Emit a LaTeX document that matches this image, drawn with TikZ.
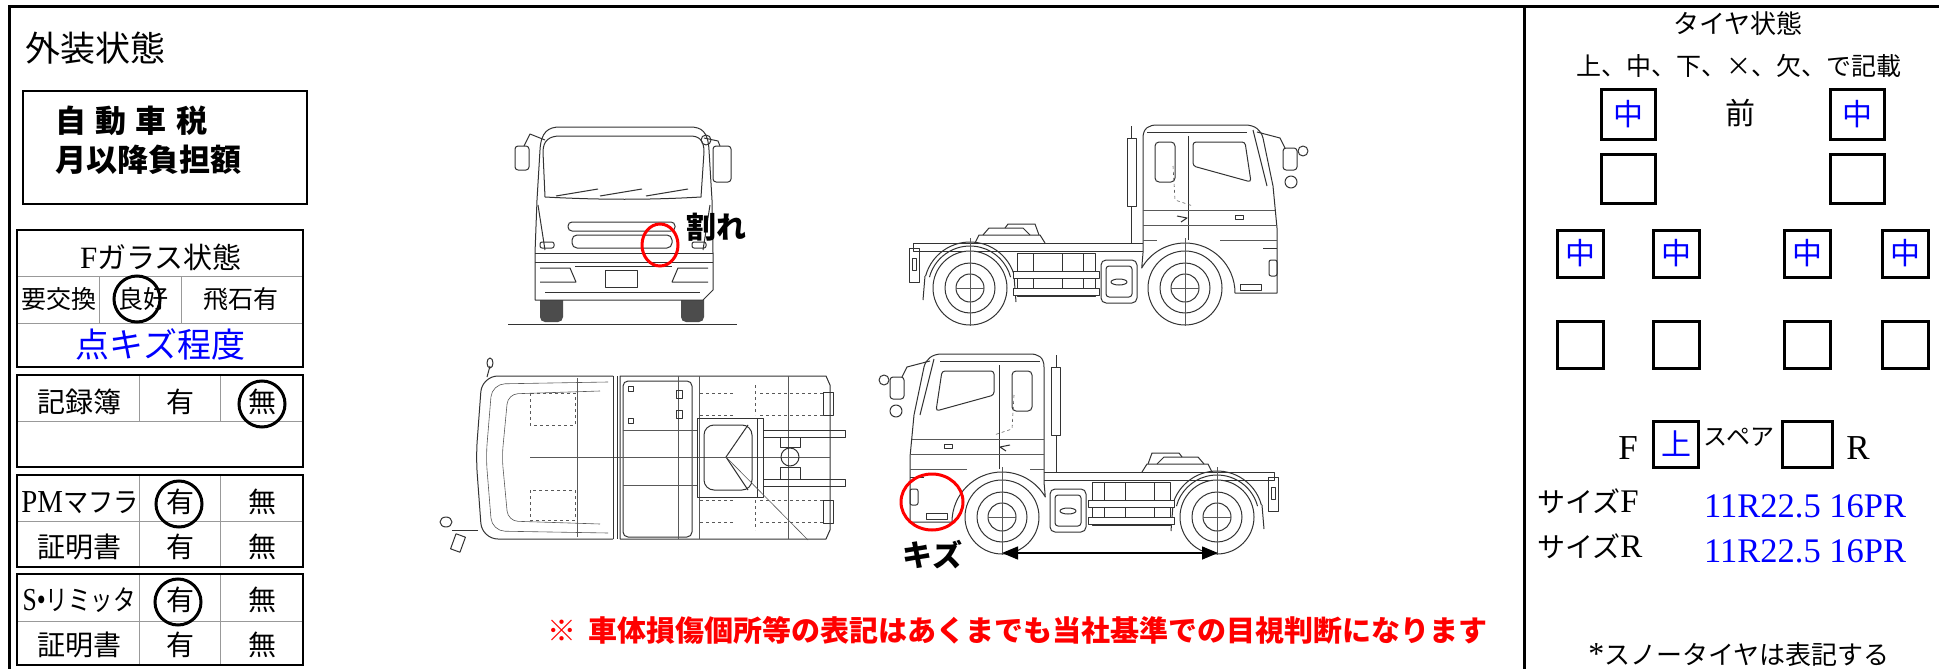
\documentclass[tikz,border=0pt]{standalone}
\usepackage{fontspec}
\usepackage{graphicx}
\setmainfont{Noto Sans CJK JP}
\newfontfamily\serifL{Liberation Serif}
\usetikzlibrary{arrows.meta}
\newcommand\myfs[1]{\fontsize{#1}{#1}\selectfont}
\tikzset{
  tk/.style={line width=1pt,draw=black!80,line join=round},
  tkt/.style={line width=0.6pt,draw=black!65},
  fz/.style={inner sep=0pt,font=\myfs{#1},text height=0.88*#1pt,text depth=0.12*#1pt},
  fzb/.style={fz=#1,font=\myfs{#1}\bfseries},
  fzs/.style={fz=#1,font=\myfs{#1}\serifL},
  sidetruck/.pic={
    % chassis frame
    \draw[tk] (-272,-45) rectangle (-40,-37);
    \draw[tk] (-276,-40) rectangle (-266,-6);
    \draw[tk] (-273,-30) rectangle (-269,-18);
    % rear fender
    \draw[tk] (-215,0) ++(-165:46) arc[start angle=-165,end angle=-15,radius=46];
    \draw[tk] (-215,0) ++(-165:42) arc[start angle=-165,end angle=-15,radius=42];
    \draw[tk] (-260,-12) -- (-262,12);
    \draw[tk] (-171,-12) -- (-169,14);
    % fifth wheel
    \draw[tk] (-210,-45) -- (-206,-53) -- (-145,-53) -- (-140,-45);
    \draw[tk] (-202,-53) -- (-196,-60) -- (-162,-60) -- (-155,-53);
    \draw[tk] (-180,-60) -- (-177,-64) -- (-150,-64) -- (-146,-53);
    % fuel tank
    \draw[tk] (-168,-35) rectangle (-90,8);
    \foreach \xx in {-152,-123,-102}{\draw[tk] (\xx,-35) -- (\xx,8);}
    \draw[tk,fill=white] (-172,-17) rectangle (-86,-10);
    \draw[tk,fill=white] (-172,0) rectangle (-86,7);
    % battery box
    \draw[tk,rounded corners=5] (-84,-28) rectangle (-48,15);
    \draw[tk,rounded corners=3] (-79,-22) rectangle (-53,9);
    \draw[tk] (-66,-6) ellipse[x radius=8,y radius=3];
    % exhaust
    \draw[tk] (-58,-150) rectangle (-49,-82);
    \draw[tk] (-54,-82) -- (-54,-45);
    \draw[tk] (-54,-162) -- (-54,-150);
    % cab
    \draw[tk,fill=white] (-42,-35) -- (-42,-150) .. controls (-42,-160) and (-36,-163) .. (-28,-163)
      -- (60,-163) .. controls (70,-163) and (76,-158) .. (78,-150) -- (88,-102) -- (92,-60)
      -- (92,5) -- (50,5) arc[start angle=0,end angle=-150,radius=50] -- cycle;
    \draw[tk] (-38,-156) -- (62,-156);
    \draw[tk] (68,-158) -- (82,-102);
    \draw[tk,rounded corners=3] (8,-146) -- (60,-146) -- (66,-106) -- (8,-122) -- cycle;
    \draw[tk,rounded corners=4] (-30,-146) rectangle (-10,-106);
    \draw[tk] (3,-152) -- (3,-48);
    \draw[tkt] (-42,-78) -- (90,-78);
    \draw[tkt] (-42,-63) -- (92,-63);
    \draw[tkt] (-42,-48) -- (-28,-48);
    \draw[tkt] (35,-48) -- (92,-48);
    \draw[tk] (78,-40) -- (92,-40);
    \draw[tk,rounded corners=2] (84,-28) rectangle (92,-12);
    \draw[tk] (55,-4) rectangle (76,2);
    \draw[tk] (50,-73) rectangle (58,-69);
    \draw[tkt,dashed] (-12,-122) -- (-10,-88) -- (8,-82);
    \draw[tk] (-8,-72) -- (2,-70) -- (-4,-66);
    % mirror
    \draw[tk] (72,-156) -- (95,-150) -- (100,-140);
    \draw[tk,rounded corners=3] (98,-140) rectangle (112,-118);
    \draw[tk] (106,-106) circle[radius=6];
    \draw[tk] (118,-137) circle[radius=5];
    % wheels
    \foreach \cx in {0,-215}{
      \draw[tk,fill=white] (\cx,0) circle[radius=37];
      \draw[tk] (\cx,0) circle[radius=25];
      \draw[tk] (\cx,0) circle[radius=14];
      \draw[tkt] (\cx-14,0) -- (\cx+14,0);
      \draw[tkt] (\cx,-50) -- (\cx,38);
    }
  }
}
\begin{document}
\begin{tikzpicture}[x=1pt,y=-1pt,
  frameline/.style={line width=3pt},
  boxb/.style={draw,line width=2.6pt},
  gridl/.style={draw=black!40,line width=1pt},
  ring/.style={draw,line width=3pt,circle,minimum size=46pt,inner sep=0pt},
  cell/.style={fz=28},
  tirebox/.style={draw,line width=3pt,fz=30,text=blue},
  redmark/.style={draw=red,line width=3pt}
]
\useasboundingbox (0,0) rectangle (1939,669);
\fill[white] (0,0) rectangle (1939,669);
% frame
\draw[frameline] (9,669) -- (9,7) -- (1939,7);
\draw[frameline] (1524,7) -- (1524,669);

% ---------- left panel
\node[fz=35,anchor=west] (gaiso) at (25,48) {外装状態};
\draw[boxb] (23,91) rectangle (307,204);
\node[fzb=31,anchor=west] (tax1) at (55,121) {自\hspace{0.3em}動\hspace{0.3em}車\hspace{0.3em}税};
\node[fzb=31,anchor=west] (tax2) at (55,160) {月以降負担額};

% F glass
\draw[gridl] (17,276) -- (303,276);
\draw[gridl] (17,323) -- (303,323);
\draw[gridl] (99,276) -- (99,323);
\draw[gridl] (181,276) -- (181,323);
\draw[boxb] (17,230) rectangle (303,367);
\node[fz=29] (fglass) at (161,257) {{\serifL\myfs{31}F}ガラス状態};
\node[fz=25] (yokokan) at (59,299) {要交換};
\node[fz=25] (ryoko) at (143,299) {良好};
\node[fz=25] (hiseki) at (241,299) {飛石有};
\node[ring] (ringA) at (137,299) {};
\node[fz=34,text=blue] (tenkizu) at (160,345) {点キズ程度};

% record book
\draw[gridl] (17,421) -- (303,421);
\draw[gridl] (139,375) -- (139,421);
\draw[gridl] (220,375) -- (220,421);
\draw[boxb] (17,375) rectangle (303,467);
\node[cell] (kiroku) at (79,402) {記録簿};
\node[cell] (kirokuY) at (180,402) {有};
\node[cell] (kirokuN) at (262,402) {無};
\node[ring] (ringB) at (262,404) {};

% PM muffler
\draw[gridl] (17,521) -- (303,521);
\draw[gridl] (139,475) -- (139,567);
\draw[gridl] (220,475) -- (220,567);
\draw[boxb] (17,475) rectangle (303,567);
\node[cell] (pm) at (80,502) {\scalebox{0.9}[1]{{\serifL\myfs{32}PM}マフラ}};
\node[cell] (pmY) at (180,502) {有};
\node[cell] (pmN) at (262,502) {無};
\node[ring] (ringC) at (179,504) {};
\node[cell] (pmc) at (79,547) {証明書};
\node[cell] (pmcY) at (180,547) {有};
\node[cell] (pmcN) at (262,547) {無};

% speed limiter
\draw[gridl] (17,621) -- (303,621);
\draw[gridl] (139,574) -- (139,665);
\draw[gridl] (220,574) -- (220,665);
\draw[boxb] (17,574) rectangle (303,665);
\node[cell] (sl) at (79,600) {\scalebox{0.8}[1]{{\serifL\myfs{32}S•}リミッタ}};
\node[cell] (slY) at (180,600) {有};
\node[cell] (slN) at (262,600) {無};
\node[ring] (ringD) at (178,602) {};
\node[cell] (slc) at (79,645) {証明書};
\node[cell] (slcY) at (180,645) {有};
\node[cell] (slcN) at (262,645) {無};

% ---------- right panel
\node[fz=26] (tiretitle) at (1738,24) {タイヤ状態};
\node[fz=25] (tirenote) at (1739,66) {上、中、下、×、欠、で記載};
\node[tirebox,minimum width=54pt,minimum height=49pt] (tFL) at (1628,114.5) {中};
\node[tirebox,minimum width=54pt,minimum height=49pt] (tFR) at (1857,114.5) {中};
\node[fz=30] (mae) at (1740,113) {前};
\node[tirebox,minimum width=54pt,minimum height=49pt] (tFL2) at (1628,178.5) {};
\node[tirebox,minimum width=54pt,minimum height=49pt] (tFR2) at (1857,178.5) {};
\foreach \nm/\xx in {a/1580.5,b/1676,c/1807,d/1905}{
  \node[tirebox,minimum width=46pt,minimum height=47pt] (tR\nm) at (\xx,253.5) {中};
  \node[tirebox,minimum width=46pt,minimum height=47pt] (tS\nm) at (\xx,345) {};
}
\node[fzs=35] (spF) at (1628,446) {F};
\node[tirebox,minimum width=45pt,minimum height=46pt] (spare1) at (1676,444) {上};
\node[fz=24] (spare) at (1739,436) {スペア};
\node[tirebox,minimum width=50pt,minimum height=46pt] (spare2) at (1807,444) {};
\node[fzs=35] (spR) at (1858,446) {R};
\node[fz=28,anchor=west] (sizeF) at (1537,502) {サイズ{\serifL\myfs{33}F}};
\node[fzs=34.5,anchor=west,text=blue] (sizeFv) at (1704,504) {11R22.5 16PR};
\node[fz=28,anchor=west] (sizeR) at (1537,547) {サイズ{\serifL\myfs{33}R}};
\node[fzs=34.5,anchor=west,text=blue] (sizeRv) at (1704,549) {11R22.5 16PR};
\node[fz=26] (snow) at (1739,655) {{\serifL\myfs{32}*}スノータイヤは表記する};

% ---------- bottom note
\node[fzb=29,anchor=west,text=red] (note) at (547,630) {※\hspace{12pt}車体損傷個所等の表記はあくまでも当社基準での目視判断になります};

% ---------- front view truck
\draw[tk] (508,324) -- (737,324);
\fill[black!70,rounded corners=5] (540,292) rectangle (563,322);
\fill[black!70,rounded corners=5] (681,292) rectangle (704,322);
\draw[tk,fill=white] (535,300) -- (535,253) -- (537,200) -- (540,150) .. controls (541,132) and (548,127) .. (560,127)
  -- (690,127) .. controls (702,127) and (708,132) .. (709,150) -- (712,200) -- (713,253) -- (713,290) -- (703,300) -- cycle;
\draw[tk] (545,197) -- (543,152) .. controls (543,140) and (550,136) .. (560,136) -- (690,136)
  .. controls (699,136) and (704,140) .. (704,152) -- (701,197) .. controls (650,200) and (600,200) .. (545,197);
\draw[tk] (556,196) -- (598,189);
\draw[tk] (600,196) -- (642,189);
\draw[tk] (646,196) -- (688,189);
\draw[tk] (538,205) -- (545,250);
\draw[tk] (710,205) -- (703,250);
\draw[tk,rounded corners=4] (568,222) rectangle (675,231);
\draw[tk,rounded corners=5] (572,235) rectangle (672,248);
\draw[tk,rounded corners=2] (540,242) rectangle (554,248);
\draw[tk,rounded corners=2] (692,242) rectangle (706,248);
\draw[tk] (535,253) -- (713,253);
\draw[tk] (535,262) -- (713,262);
\draw[tk] (575,266) -- (672,266);
\draw[tk] (605,270) rectangle (637,287);
\draw[tk] (540,268) -- (570,268) -- (576,282) -- (540,282);
\draw[tk] (708,268) -- (678,268) -- (672,282) -- (708,282);
\draw[tk] (545,292) -- (700,292);
\draw[tk] (545,140) -- (530,134) -- (524,146);
\draw[tk,rounded corners=3] (515,146) rectangle (529,170);
\draw[tk] (704,138) -- (718,141) -- (720,146);
\draw[tk,rounded corners=3] (713,146) rectangle (731,182);
\draw[tk] (706,140) circle[radius=5];
\draw[redmark] (660,245) ellipse[x radius=18,y radius=21];
\node[fzb=30] (ware) at (716,227) {割れ};

% ---------- side view trucks
\pic at (1185,288) {sidetruck};
\pic[xscale=-1] at (1002,517) {sidetruck};
\draw[redmark] (932,502) ellipse[x radius=31,y radius=28];
\node[fzb=30] (kizu) at (932,555) {キズ};
\coordinate (dimL) at (1002,553);
\coordinate (dimR) at (1218,553);
\draw[line width=1.5pt,{Triangle[length=16pt,width=13pt]}-{Triangle[length=16pt,width=13pt]}] (dimL) -- (dimR);

% ---------- top view truck
\draw[tk] (620,376) -- (826,376) -- (830,385) -- (830,530) -- (826,539) -- (620,539) -- cycle;
\draw[tk,rounded corners=5] (623,381) rectangle (692,537);
\draw[tkt] (678,376) -- (678,539);
\draw[tkt] (699,376) -- (699,539);
\draw[tkt] (788,376) -- (788,539);
\draw[tkt] (623,430) -- (697,430);
\draw[tkt] (623,485) -- (697,485);
\draw[tkt] (530,457) -- (830,457);
\draw[tk] (628,386) rectangle (633,391);
\draw[tk] (628,418) rectangle (633,423);
\draw[tk] (676,390) rectangle (682,398);
\draw[tk] (676,410) rectangle (682,418);
\draw[tkt,dashed] (700,393) -- (735,393) (700,415) -- (735,415) (755,385) -- (755,415) (760,393) -- (825,393) (760,415) -- (825,415);
\draw[tkt,dashed] (700,500) -- (735,500) (700,522) -- (735,522) (755,500) -- (755,530) (760,500) -- (825,500) (760,522) -- (825,522);
\draw[tk] (697,418) rectangle (757,497);
\draw[tk,rounded corners=10] (704,425) rectangle (752,490);
\draw[tk] (726,457) -- (748,425);
\draw[tk] (726,457) -- (748,490);
\draw[tk] (757,418) rectangle (763,497);
\draw[tk] (763,430) -- (845,430) -- (845,437) -- (763,437);
\draw[tk] (763,479) -- (845,479) -- (845,486) -- (763,486);
\draw[tk] (790,457) circle[radius=9];
\draw[tk] (780,437) rectangle (800,447);
\draw[tk] (780,467) rectangle (800,479);
\draw[tk] (823,392) rectangle (833,415);
\draw[tk] (823,500) rectangle (833,523);
\draw[tkt] (726,457) -- (808,540);
\draw[tk,rounded corners=16] (613,376) -- (482,376) -- (476,457) -- (482,539) -- (613,539);
\draw[tk] (613,376) -- (613,539);
\draw[tk] (617,376) -- (617,539);
\draw[tkt,rounded corners=13] (608,382) -- (492,384) -- (486,457) -- (492,531) -- (608,533);
\draw[tkt,rounded corners=10] (600,391) -- (508,394) -- (502,457) -- (508,521) -- (600,524);
\draw[tkt] (577,378) -- (577,537);
\draw[tkt,dashed] (530,393) rectangle (575,425);
\draw[tkt,dashed] (530,490) rectangle (575,520);
\draw[tk] (487,377) -- (490,366);
\draw[tk] (490,363) ellipse[x radius=3,y radius=5];
\draw[tk] (478,530) -- (452,530);
\draw[tk] (446,522) ellipse[x radius=6,y radius=5];
\draw[tk,rotate around={-20:(458,543)}] (453,535) rectangle (463,551);
\end{tikzpicture}
\end{document}
